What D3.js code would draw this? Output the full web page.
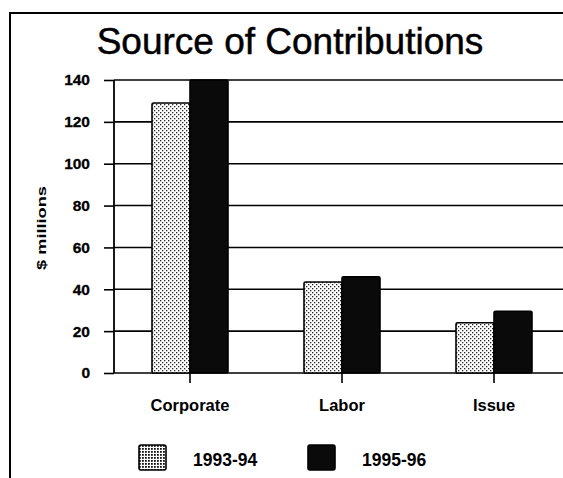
<!DOCTYPE html>
<html>
<head>
<meta charset="utf-8">
<script src="https://cdn.jsdelivr.net/npm/d3@7"></script>
<style>
  body { margin: 0; background: #fff; }
  svg { display: block; font-family: "Liberation Sans", Arial, sans-serif; }
</style>
</head>
<body>
<svg id="chart"></svg>
<script>
const categories = ["Corporate", "Labor", "Issue"];
const seriesNames = ["1993-94", "1995-96"];
const values9394 = [129, 43.5, 24];
const values9596 = [140, 46, 29.5];
const yTicks = [0, 20, 40, 60, 80, 100, 120, 140];

const W = 563, H = 478;
const margin = {top: 80, left: 114, bottom: 105};
const plotRight = 570; // plot runs off the right edge, like the scan

const svg = d3.select("#chart")
    .attr("width", W)
    .attr("height", H);

const defs = svg.append("defs");

// stipple fill for the 1993-94 bars
const pat = defs.append("pattern")
    .attr("id", "stipple")
    .attr("width", 4)
    .attr("height", 4)
    .attr("patternUnits", "userSpaceOnUse");
pat.append("rect").attr("width", 4).attr("height", 4).attr("fill", "#fff");
pat.append("rect").attr("x", 0).attr("y", 0).attr("width", 1.3).attr("height", 1.3).attr("fill", "#222");
pat.append("rect").attr("x", 2).attr("y", 2).attr("width", 1.3).attr("height", 1.3).attr("fill", "#222");

const pat2 = defs.append("pattern")
    .attr("id", "stippleDense")
    .attr("width", 3)
    .attr("height", 3)
    .attr("patternUnits", "userSpaceOnUse");
pat2.append("rect").attr("width", 3).attr("height", 3).attr("fill", "#fff");
pat2.append("rect").attr("width", 1.8).attr("height", 1.8).attr("fill", "#111");

const fills = ["url(#stipple)", "#0a0a0a"];
const legendFills = ["url(#stippleDense)", "#0a0a0a"];

// outer frame (top and left edges only visible)
svg.append("path")
    .attr("d", `M10,${H} L10,13 L${W},13`)
    .attr("fill", "none")
    .attr("stroke", "#000")
    .attr("stroke-width", 2);

// title
svg.append("text")
    .attr("x", 290)
    .attr("y", 54)
    .attr("text-anchor", "middle")
    .style("font-size", "37px")
    .attr("stroke", "#000")
    .attr("stroke-width", 0.5)
    .text("Source of Contributions");

const y = d3.scaleLinear()
    .domain([0, 140])
    .range([373, margin.top]);

const x0 = d3.scaleBand()
    .domain(categories)
    .range([margin.left, plotRight])
    .paddingInner(0.5)
    .paddingOuter(0.25);

const x1 = d3.scaleBand()
    .domain(seriesNames)
    .range([0, x0.bandwidth()]);

// gridlines
svg.append("g")
    .selectAll("line")
    .data(yTicks)
    .join("line")
    .attr("x1", margin.left)
    .attr("x2", W)
    .attr("y1", d => y(d))
    .attr("y2", d => y(d))
    .attr("stroke", "#000")
    .attr("stroke-width", 1.6);

// bars
const rows = categories.map((c, i) => ({cat: c, vals: [values9394[i], values9596[i]]}));

const groups = svg.append("g")
    .selectAll("g")
    .data(rows)
    .join("g")
    .attr("transform", d => `translate(${x0(d.cat)},0)`);

groups.selectAll("rect")
    .data(d => d.vals.map((v, j) => ({key: seriesNames[j], value: v, j: j})))
    .join("rect")
    .attr("x", d => x1(d.key))
    .attr("y", d => y(d.value))
    .attr("width", x1.bandwidth())
    .attr("height", d => y(0) - y(d.value))
    .attr("rx", 1.5)
    .attr("fill", d => fills[d.j])
    .attr("stroke", "#000")
    .attr("stroke-width", 1.6);

// y axis
const yAxis = svg.append("g")
    .attr("transform", `translate(${margin.left},0)`)
    .call(d3.axisLeft(y).tickValues(yTicks).tickSize(10).tickPadding(14));
yAxis.select(".domain").attr("stroke-width", 1.8).attr("d", `M0,${y(0)}V${y(140)}`);
yAxis.selectAll(".tick line").attr("stroke-width", 1.6);
yAxis.selectAll(".tick text")
    .style("font-size", "15.5px")
    .style("font-weight", "bold")
    .style("font-family", "'Liberation Sans', Arial, sans-serif")
    .attr("fill", "#000")
    .attr("stroke", "#000")
    .attr("stroke-width", 0.3);

// x axis ticks
const xAxis = svg.append("g")
    .attr("transform", `translate(0,${y(0)})`)
    .call(d3.axisBottom(x0).tickSize(10).tickSizeOuter(0).tickPadding(16));
xAxis.select(".domain").remove();
xAxis.selectAll(".tick line").attr("stroke-width", 1.6);
xAxis.selectAll(".tick text")
    .style("font-size", "16.5px")
    .style("font-weight", "bold")
    .style("font-family", "'Liberation Sans', Arial, sans-serif")
    .attr("fill", "#000");

// y axis title
svg.append("text")
    .attr("transform", `translate(46,228) rotate(-90)`)
    .attr("text-anchor", "middle")
    .attr("textLength", 84)
    .attr("lengthAdjust", "spacingAndGlyphs")
    .style("font-size", "13px")
    .style("font-weight", "bold")
    .text("$ millions");

// legend
const legendX = [139, 308];
const legend = svg.append("g")
    .selectAll("g")
    .data(seriesNames)
    .join("g")
    .attr("transform", (d, i) => `translate(${legendX[i]},445)`);

legend.append("rect")
    .attr("width", 27)
    .attr("height", 25)
    .attr("rx", 2)
    .attr("fill", (d, i) => legendFills[i])
    .attr("stroke", "#000")
    .attr("stroke-width", 1.6);

legend.append("text")
    .attr("x", 54)
    .attr("y", 21)
    .style("font-size", "17.5px")
    .style("font-weight", "bold")
    .text(d => d);
</script>
</body>
</html>
